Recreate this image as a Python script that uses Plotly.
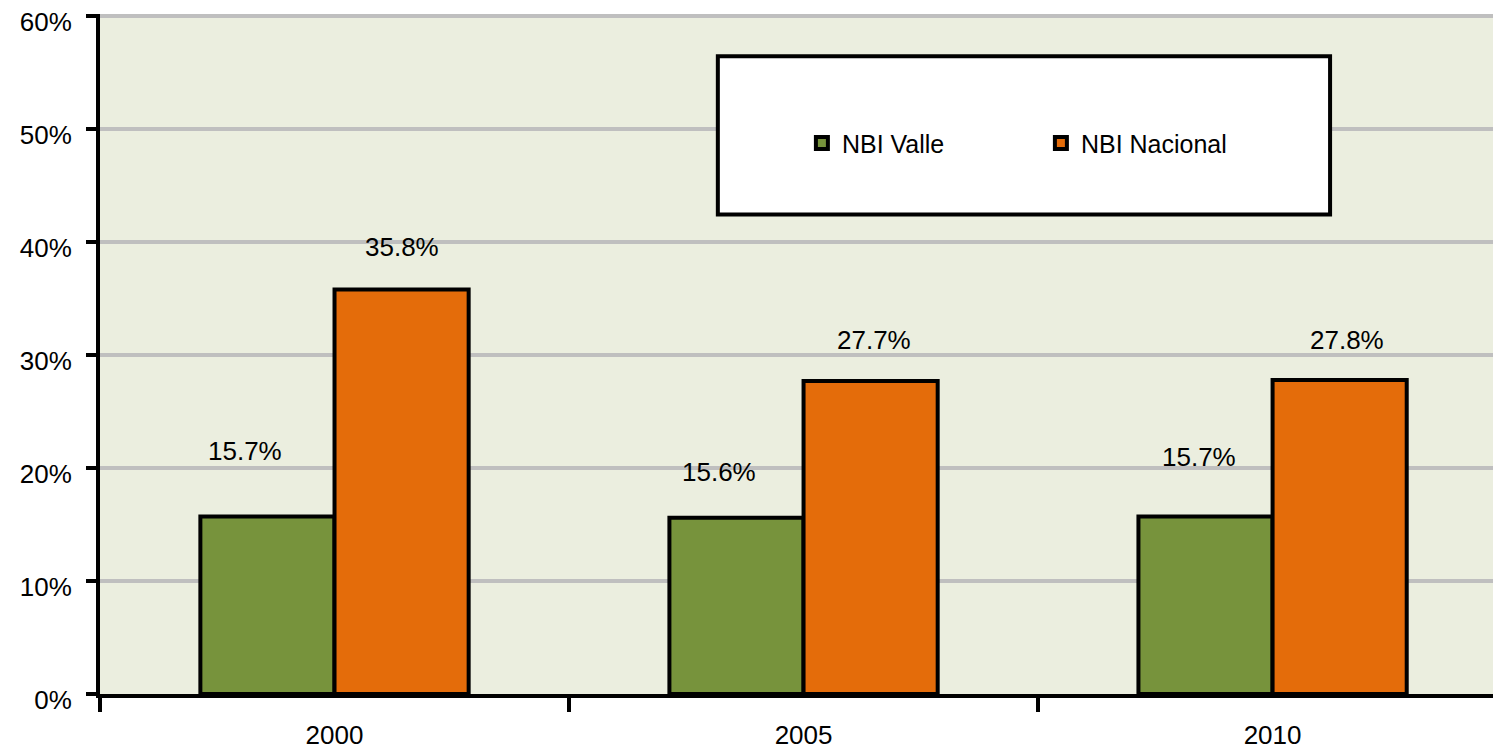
import plotly.graph_objects as go

years = ["2000", "2005", "2010"]
nbi_valle = [15.7, 15.6, 15.7]
nbi_nacional = [35.8, 27.7, 27.8]
y_ticks = [0, 10, 20, 30, 40, 50, 60]
y_tick_labels = ["0%", "10%", "20%", "30%", "40%", "50%", "60%"]

FONT = "Liberation Sans, Arial, sans-serif"
GREEN = "#77933C"
ORANGE = "#E46C0A"

fig = go.Figure()
fig.add_trace(go.Bar(x=years, y=nbi_valle, name="NBI Valle",
                     marker=dict(color=GREEN, line=dict(color="black", width=4))))
fig.add_trace(go.Bar(x=years, y=nbi_nacional, name="NBI Nacional",
                     marker=dict(color=ORANGE, line=dict(color="black", width=4))))

# data labels (Excel places them a bit above each bar, slightly uneven)
valle_shift = [(-23, 66), (-18, 46), (-7, 60)]
nac_shift = [(0, 42), (3, 41), (7, 40)]
for i, yr in enumerate(years):
    fig.add_annotation(x=i, y=nbi_valle[i], xref="x", yref="y",
                       text=f"{nbi_valle[i]:.1f}%", showarrow=False,
                       xshift=-67 + valle_shift[i][0], yshift=valle_shift[i][1],
                       font=dict(family=FONT, size=26, color="black"))
    fig.add_annotation(x=i, y=nbi_nacional[i], xref="x", yref="y",
                       text=f"{nbi_nacional[i]:.1f}%", showarrow=False,
                       xshift=67 + nac_shift[i][0], yshift=nac_shift[i][1],
                       font=dict(family=FONT, size=26, color="black"))

# legend box
fig.add_shape(type="rect", xref="paper", yref="paper", x0=0.441, x1=0.878, y0=0.705, y1=0.938,
              fillcolor="white", line=dict(color="black", width=4), layer="above")

# page body has an 8px default margin, so the figure is 8px smaller than the window
fig.update_layout(
    width=1493, height=745,
    margin=dict(l=92, r=0, t=6, b=59),
    paper_bgcolor="white",
    plot_bgcolor="#EBEEDF",
    barmode="group", bargap=0.428, bargroupgap=0,
    font=dict(family=FONT, size=26, color="black"),
    showlegend=True,
    legend=dict(orientation="h", x=0.501, y=0.81, xanchor="left", yanchor="middle",
                bgcolor="rgba(0,0,0,0)", borderwidth=0,
                font=dict(family=FONT, size=25, color="black"),
                entrywidth=194, entrywidthmode="pixels"),
)
fig.update_xaxes(type="category", range=[-0.5, 2.487], automargin=False,
                 showgrid=False, showline=True, linecolor="black", linewidth=4,
                 ticks="outside", tickson="boundaries", ticklen=14, tickwidth=4, tickcolor="black",
                 ticklabelstandoff=15, zeroline=False)
fig.update_yaxes(range=[0, 60.18], tickvals=y_ticks, ticktext=y_tick_labels, automargin=False,
                 showgrid=True, gridcolor="#BFBFBF", gridwidth=4,
                 showline=True, linecolor="black", linewidth=4,
                 ticks="outside", ticklen=10, tickwidth=4, tickcolor="black",
                 ticklabelstandoff=9, ticklabelshift=6, ticklabeloverflow="allow", zeroline=False)

fig.write_html("out.html")
